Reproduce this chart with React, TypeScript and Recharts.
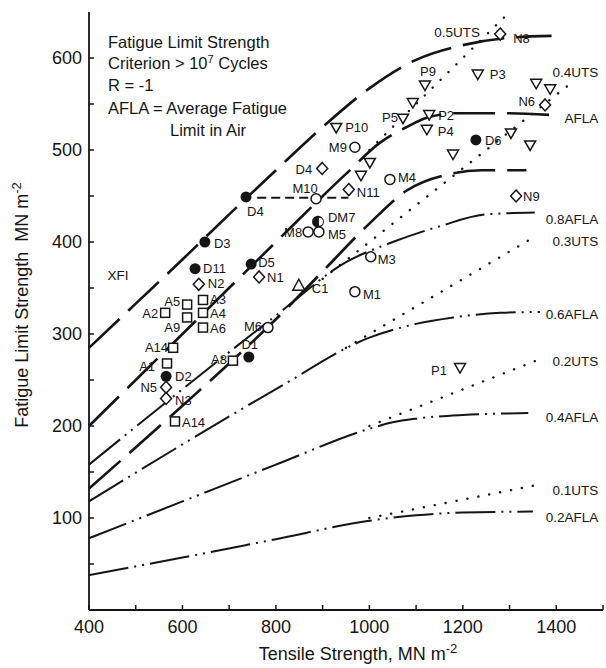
import React from "react";
import { ComposedChart, Line, Scatter, XAxis, YAxis } from "recharts";

const FONT = "'Liberation Sans', Arial, Helvetica, sans-serif";
const INK = "#151515";

// axes (MN m^-2)
const xTicks = [400, 500, 600, 700, 800, 900, 1000, 1100, 1200, 1300, 1400, 1500];
const xTickLabels = [400, 600, 800, 1000, 1200, 1400];
const yTicks = [50, 100, 150, 200, 250, 300, 350, 400, 450, 500, 550, 600];
const yTickLabels = [100, 200, 300, 400, 500, 600];

// long dashed curves
const xfiX = [400, 500, 600, 700, 800, 900, 1000, 1100, 1200, 1300, 1390];
const xfiY = [285, 333, 381, 430, 478, 525, 567, 598, 614, 622, 624];
const aflaX = [400, 600, 800, 950, 1023, 1080, 1123, 1190, 1300, 1390];
const aflaY = [200, 300, 400, 474, 508, 525, 535, 540, 540, 538];
const midX = [400, 600, 700, 800, 900, 1000, 1080, 1173, 1240, 1336];
const midY = [132, 222, 268, 316, 368, 420, 456, 474, 478, 478];

// dash-dot curves, fractions of AFLA
const afla08X = [400, 600, 800, 950, 1050, 1150, 1250, 1354];
const afla08Y = [158, 240, 320, 378, 400, 417, 430, 432];
const afla06X = [400, 600, 800, 1000, 1100, 1180, 1280, 1365];
const afla06Y = [118, 180, 240, 296, 311, 318, 323, 324];
const afla04X = [400, 600, 800, 1000, 1050, 1100, 1200, 1340];
const afla04Y = [78, 118, 158, 197, 204, 208, 212, 214];
const afla02X = [400, 600, 800, 1000, 1100, 1200, 1350];
const afla02Y = [38, 57, 77, 97, 103, 106, 107];

// dotted lines, fractions of UTS
const uts05X = [1000, 1290];
const uts05Y = [500, 645];
const uts04X = [900, 1430];
const uts04Y = [360, 572];
const uts03X = [950, 1348];
const uts03Y = [285, 404];
const uts02X = [1000, 1362];
const uts02Y = [200, 272];
const uts01X = [1000, 1350];
const uts01Y = [100, 135];

const d4LevelX = [760, 955];
const d4LevelY = [448, 448];

// test points
const filledNames = ["D4", "D3", "D11", "D5", "D1", "D2", "D6"];
const filledX = [736, 648, 627, 747, 742, 565, 1228];
const filledY = [449, 400, 371, 376, 275, 254, 511];

const halfNames = ["DM7"];
const halfX = [890];
const halfY = [422];

const circleNames = ["M10", "M8", "M5", "M4", "M9", "M3", "M1", "M6"];
const circleX = [886, 869, 892, 1044, 969, 1003, 969, 783];
const circleY = [447, 411, 411, 468, 503, 384, 346, 307];

const diamondNames = ["N8", "N6", "N9", "N11", "D4", "N1", "N2", "N5", "N3"];
const diamondX = [1280, 1376, 1314, 956, 899, 764, 635, 565, 565];
const diamondY = [626, 549, 450, 457, 480, 362, 354, 242, 230];

const squareNames = ["A5", "A3", "A2", "A4", "A9", "A6", "A14", "A1", "A8", "A14"];
const squareX = [610, 644, 563, 644, 610, 644, 580, 567, 708, 584];
const squareY = [332, 337, 323, 323, 318, 307, 285, 268, 271, 205];

const invTriNames = ["P9", "P3", "P2", "P5", "P4", "P10", "P1", "", "", "", "", "", "", "", ""];
const invTriX = [1119, 1232, 1128, 1072, 1123, 929, 1194, 1093, 1179, 1303, 1344, 1357, 1387, 1001, 982];
const invTriY = [570, 582, 538, 534, 522, 524, 263, 551, 495, 518, 505, 572, 566, 486, 472];

const triNames = ["C1"];
const triX = [849];
const triY = [353];

// curve labels
const curveLabels = ["0.5UTS", "0.4UTS", "AFLA", "0.8AFLA", "0.3UTS", "0.6AFLA", "0.2UTS", "0.4AFLA", "0.1UTS", "0.2AFLA", "XFI"];
const curveLabelX = [1237, 1490, 1490, 1490, 1490, 1490, 1490, 1490, 1490, 1490, 462];
const curveLabelY = [628, 585, 535, 425, 401, 321, 270, 210, 130, 101, 364];

type Anchor = "start" | "middle" | "end";
type LabelPos = [number, number, Anchor] | null;

// label offsets (px) relative to each marker, same order as the arrays above
const filledLab: LabelPos[] = [[1, 15, "start"], [9, 1, "start"], [8, 0, "start"], [7, -2, "start"], [1, -13, "middle"], [9, 0, "start"], [9, 1, "start"]];
const halfLab: LabelPos[] = [[10, -4, "start"]];
const circleLab: LabelPos[] = [[-11, -10, "middle"], [-6, 1, "end"], [9, 3, "start"], [8, -2, "start"], [-8, 0, "end"], [7, 3, "start"], [8, 3, "start"], [-6, -1, "end"]];
const diamondLab: LabelPos[] = [[13, 4, "start"], [-10, -3, "end"], [7, 0, "start"], [8, 3, "start"], [-10, 1, "end"], [8, 0, "start"], [9, -1, "start"], [-9, 0, "end"], [9, 2, "start"]];
const squareLab: LabelPos[] = [[-7, -3, "end"], [7, -1, "start"], [-7, 1, "end"], [7, 1, "start"], [-7, 10, "end"], [7, 1, "start"], [-5, 0, "end"], [-12, 3, "end"], [-6, -1, "end"], [7, 1, "start"]];
const invTriLab: LabelPos[] = [[3, -14, "middle"], [12, 0, "start"], [9, 0, "start"], [-5, -1, "end"], [11, 2, "start"], [9, 0, "start"], [-13, 2, "end"]];
const triLab: LabelPos[] = [[13, 3, "start"]];
const curveLab: Anchor[] = ["end", "end", "end", "end", "end", "end", "end", "end", "end", "end", "middle"];

const zip = (xs: number[], ys: number[]) => xs.map((x, i) => ({ x, y: ys[i] }));
const named = (names: string[], xs: number[], ys: number[]) =>
  xs.map((x, i) => ({ x, y: ys[i], name: names[i], i }));

type Kind = "filled" | "half" | "circle" | "diamond" | "square" | "invTri" | "tri";

function marker(kind: Kind, cx: number, cy: number) {
  const sw = 1.5;
  switch (kind) {
    case "filled":
      return <circle cx={cx} cy={cy} r={5.5} fill={INK} />;
    case "half":
      return (
        <g>
          <circle cx={cx} cy={cy} r={5.2} fill={INK} stroke={INK} strokeWidth={sw} />
          <path d={`M${cx + 1},${cy - 4} A4,4 0 0 1 ${cx + 1},${cy + 4} Z`} fill="#fff" />
        </g>
      );
    case "circle":
      return <circle cx={cx} cy={cy} r={5} fill="#fff" stroke={INK} strokeWidth={sw} />;
    case "diamond":
      return (
        <polygon
          points={`${cx},${cy - 6} ${cx + 5.5},${cy} ${cx},${cy + 6} ${cx - 5.5},${cy}`}
          fill="#fff"
          stroke={INK}
          strokeWidth={sw}
        />
      );
    case "square":
      return <rect x={cx - 4.5} y={cy - 4.5} width={9} height={9} fill="#fff" stroke={INK} strokeWidth={sw} />;
    case "invTri":
      return (
        <polygon
          points={`${cx - 5.5},${cy - 4.5} ${cx + 5.5},${cy - 4.5} ${cx},${cy + 5}`}
          fill="#fff"
          stroke={INK}
          strokeWidth={sw}
        />
      );
    default:
      return (
        <polygon
          points={`${cx - 6},${cy + 5} ${cx + 6},${cy + 5} ${cx},${cy - 6}`}
          fill="#fff"
          stroke={INK}
          strokeWidth={sw}
        />
      );
  }
}

function pointShape(kind: Kind, layout: LabelPos[]) {
  return (props: any) => {
    const { cx, cy, payload } = props;
    if (cx == null || cy == null) return <g />;
    const lab = layout[payload.i];
    return (
      <g>
        {marker(kind, cx, cy)}
        {lab && payload.name ? (
          <text
            x={cx + lab[0]}
            y={cy + lab[1]}
            dy="0.35em"
            textAnchor={lab[2]}
            fontSize={13}
            fontFamily={FONT}
            fill={INK}
          >
            {payload.name}
          </text>
        ) : null}
      </g>
    );
  };
}

function curveLabelShape(props: any) {
  const { cx, cy, payload } = props;
  if (cx == null || cy == null) return <g />;
  return (
    <text x={cx} y={cy} dy="0.35em" textAnchor={curveLab[payload.i]} fontSize={13.5} fontFamily={FONT} fill={INK}>
      {payload.name}
    </text>
  );
}

const tickLen = 5;

function LeftTick(props: any) {
  const { x, y, payload } = props;
  const v = payload.value;
  return (
    <g>
      <line x1={x} x2={x + tickLen} y1={y} y2={y} stroke={INK} strokeWidth={1.5} />
      {yTickLabels.includes(v) ? (
        <text x={x - 7} y={y} dy="0.35em" textAnchor="end" fontSize={18} fontFamily={FONT} fill={INK}>
          {v}
        </text>
      ) : null}
    </g>
  );
}

function RightTick(props: any) {
  const { x, y } = props;
  return <line x1={x} x2={x - tickLen} y1={y} y2={y} stroke={INK} strokeWidth={1.5} />;
}

function BottomTick(props: any) {
  const { x, y, payload } = props;
  const v = payload.value;
  return (
    <g>
      <line x1={x} x2={x} y1={y} y2={y - tickLen} stroke={INK} strokeWidth={1.5} />
      {xTickLabels.includes(v) ? (
        <text x={x} y={y + 17} dy="0.35em" textAnchor="middle" fontSize={18} fontFamily={FONT} fill={INK}>
          {v}
        </text>
      ) : null}
    </g>
  );
}

function TopTick(props: any) {
  const { x, y } = props;
  return <line x1={x} x2={x} y1={y} y2={y + tickLen} stroke={INK} strokeWidth={1.5} />;
}

const frame = { stroke: INK, strokeWidth: 1.8 };
const longDash = { stroke: INK, strokeWidth: 2.6, strokeDasharray: "42 12" };
const dashDot = { stroke: INK, strokeWidth: 2, strokeDasharray: "40 6 2 6 2 6" };
const dotted = { stroke: INK, strokeWidth: 2.4, strokeDasharray: "0.1 11", strokeLinecap: "round" as const };

export default function App() {
  const curve = (xs: number[], ys: number[], style: any, type: "monotone" | "linear" = "monotone") => (
    <Line
      data={zip(xs, ys)}
      dataKey="y"
      type={type}
      {...style}
      fill="none"
      dot={false}
      activeDot={false}
      legendType="none"
      isAnimationActive={false}
    />
  );

  return (
    <div style={{ position: "absolute", left: 0, top: 0, width: 606, height: 668, background: "#fff" }}>
      <ComposedChart width={606} height={668} margin={{ top: 12, right: 3, bottom: 0, left: 0 }}>
        <XAxis
          dataKey="x"
          type="number"
          domain={[400, 1500]}
          ticks={xTicks}
          interval={0}
          height={58}
          tickSize={0}
          tickMargin={0}
          tickLine={false}
          axisLine={frame}
          tick={<BottomTick />}
        />
        <XAxis
          xAxisId="top"
          orientation="top"
          type="number"
          domain={[400, 1500]}
          ticks={xTicks}
          interval={0}
          height={0}
          tickSize={0}
          tickMargin={0}
          tickLine={false}
          axisLine={frame}
          tick={<TopTick />}
        />
        <YAxis
          dataKey="y"
          type="number"
          domain={[0, 650]}
          ticks={yTicks}
          interval={0}
          width={89}
          tickSize={0}
          tickMargin={0}
          tickLine={false}
          axisLine={frame}
          tick={<LeftTick />}
        />
        <YAxis
          yAxisId="right"
          orientation="right"
          type="number"
          domain={[0, 650]}
          ticks={yTicks}
          interval={0}
          width={0}
          tickSize={0}
          tickMargin={0}
          tickLine={false}
          axisLine={frame}
          tick={<RightTick />}
        />

        {curve(uts05X, uts05Y, dotted, "linear")}
        {curve(uts04X, uts04Y, dotted, "linear")}
        {curve(uts03X, uts03Y, dotted, "linear")}
        {curve(uts02X, uts02Y, dotted, "linear")}
        {curve(uts01X, uts01Y, dotted, "linear")}

        {curve(afla08X, afla08Y, dashDot)}
        {curve(afla06X, afla06Y, dashDot)}
        {curve(afla04X, afla04Y, dashDot)}
        {curve(afla02X, afla02Y, dashDot)}

        {curve(xfiX, xfiY, longDash)}
        {curve(aflaX, aflaY, longDash)}
        {curve(midX, midY, longDash)}
        {curve(d4LevelX, d4LevelY, { stroke: INK, strokeWidth: 2, strokeDasharray: "9 5" }, "linear")}

        <Scatter data={named(filledNames, filledX, filledY)} shape={pointShape("filled", filledLab)} isAnimationActive={false} />
        <Scatter data={named(halfNames, halfX, halfY)} shape={pointShape("half", halfLab)} isAnimationActive={false} />
        <Scatter data={named(circleNames, circleX, circleY)} shape={pointShape("circle", circleLab)} isAnimationActive={false} />
        <Scatter data={named(diamondNames, diamondX, diamondY)} shape={pointShape("diamond", diamondLab)} isAnimationActive={false} />
        <Scatter data={named(squareNames, squareX, squareY)} shape={pointShape("square", squareLab)} isAnimationActive={false} />
        <Scatter data={named(invTriNames, invTriX, invTriY)} shape={pointShape("invTri", invTriLab)} isAnimationActive={false} />
        <Scatter data={named(triNames, triX, triY)} shape={pointShape("tri", triLab)} isAnimationActive={false} />
        <Scatter data={named(curveLabels, curveLabelX, curveLabelY)} shape={curveLabelShape} isAnimationActive={false} />
      </ComposedChart>

      <svg
        width={606}
        height={668}
        style={{ position: "absolute", left: 0, top: 0, pointerEvents: "none" }}
        fontFamily={FONT}
        fill={INK}
      >
        <g fontSize={16.5}>
          <text x={108} y={48}>Fatigue Limit Strength</text>
          <text x={108} y={69}>
            Criterion &gt; 10<tspan dy={-6} fontSize={11}>7</tspan>
            <tspan dy={6}> Cycles</tspan>
          </text>
          <text x={108} y={91}>R = -1</text>
          <text x={108} y={114}>AFLA = Average Fatigue</text>
          <text x={170} y={136}>Limit in Air</text>
        </g>
        <text
          transform="translate(28,305) rotate(-90)"
          textAnchor="middle"
          fontSize={18}
          style={{ whiteSpace: "pre" }}
        >
          {"Fatigue Limit Strength  MN m"}
          <tspan dy={-7} fontSize={13}>-2</tspan>
        </text>
        <text x={358} y={660} textAnchor="middle" fontSize={18}>
          Tensile Strength, MN m<tspan dy={-7} fontSize={13}>-2</tspan>
        </text>
      </svg>
    </div>
  );
}
